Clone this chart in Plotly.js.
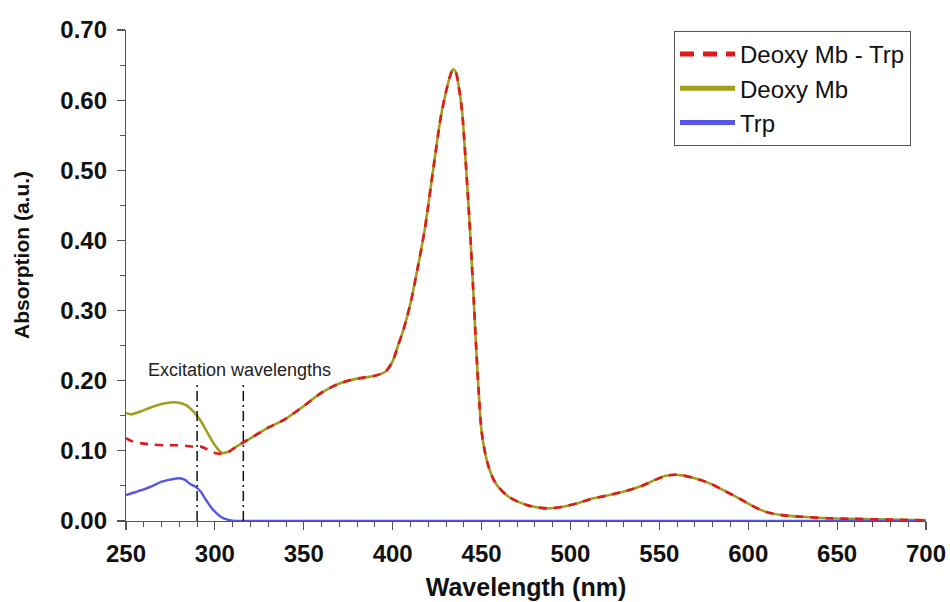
<!DOCTYPE html>
<html>
<head>
<meta charset="utf-8">
<script src="https://cdn.plot.ly/plotly-3.0.1.min.js"></script>
<style>html,body{margin:0;padding:0;background:#fff;}#chart{width:950px;height:602px;}</style>
</head>
<body>
<div id="chart"></div>
<script>
// Wavelength grid (nm) for Deoxy Mb and difference spectrum
var wlMb = [250,253,258,265,272,279,284,288,292,296,300,304,308,312,316,322,330,340,350,360,370,380,390,396,400,403,406,410,414,418,423,427,430,432.5,434,435.5,437,439,441,443.5,445.5,447,448.5,450,452,454,457,460,465,470,478,487,495,505,511,520,530,540,548,553,558,563,570,578,586,595,602,610,620,630,645,660,680,700];
// Deoxy Mb absorption
var deoxyMb = [0.154,0.152,0.156,0.163,0.168,0.169,0.165,0.156,0.143,0.125,0.108,0.097,0.099,0.106,0.112,0.121,0.133,0.146,0.164,0.183,0.196,0.203,0.207,0.213,0.228,0.250,0.272,0.310,0.360,0.415,0.505,0.575,0.612,0.636,0.644,0.640,0.622,0.585,0.515,0.415,0.320,0.245,0.180,0.128,0.097,0.077,0.058,0.047,0.035,0.028,0.021,0.018,0.020,0.026,0.031,0.036,0.042,0.050,0.059,0.064,0.066,0.065,0.061,0.054,0.044,0.032,0.022,0.013,0.008,0.006,0.004,0.003,0.002,0.001];
// Deoxy Mb - Trp difference spectrum
var deoxyMbMinusTrp = [0.118,0.114,0.111,0.109,0.108,0.108,0.107,0.106,0.106,0.102,0.097,0.096,0.099,0.106,0.112,0.121,0.133,0.146,0.164,0.183,0.196,0.203,0.207,0.213,0.228,0.250,0.272,0.310,0.360,0.415,0.505,0.575,0.612,0.636,0.644,0.640,0.622,0.585,0.515,0.415,0.320,0.245,0.180,0.128,0.097,0.077,0.058,0.047,0.035,0.028,0.021,0.018,0.020,0.026,0.031,0.036,0.042,0.050,0.059,0.064,0.066,0.065,0.061,0.054,0.044,0.032,0.022,0.013,0.008,0.006,0.004,0.003,0.002,0.001];
// Trp absorption
var wlTrp = [250,255,260,265,270,275,280,283,286,289,292,295,298,301,304,307,310,315,350,400,450,500,550,600,650,700];
var trp = [0.037,0.041,0.045,0.050,0.056,0.059,0.061,0.059,0.053,0.049,0.042,0.030,0.019,0.011,0.005,0.002,0.0005,0,0,0,0,0,0,0,0,0];
// Excitation wavelengths (nm) and height of the marker lines
var excitation = [290, 316];
var excitationTop = 0.197;
var excitationLabel = "Excitation wavelengths";
var seriesNames = ["Deoxy Mb - Trp", "Deoxy Mb", "Trp"];
var xTitle = "Wavelength (nm)";
var yTitle = "Absorption (a.u.)";

var cRed = "#e0191f", cOlive = "#a39f1c", cBlue = "#5555e8";
var font = "Liberation Sans, Arial, Helvetica, sans-serif";

var traces = [];
traces.push({x: wlMb, y: deoxyMb, mode: "lines", line: {color: cOlive, width: 2.6, shape: "spline", smoothing: 0.8}, showlegend: false, hoverinfo: "skip"});
traces.push({x: wlTrp, y: trp, mode: "lines", line: {color: cBlue, width: 2.4, shape: "spline", smoothing: 0.6}, showlegend: false, hoverinfo: "skip"});
traces.push({x: wlMb, y: deoxyMbMinusTrp, mode: "lines", line: {color: cRed, width: 2.6, dash: "8px,7px", shape: "spline", smoothing: 0.8}, showlegend: false, hoverinfo: "skip"});
excitation.forEach(function (w) {
  traces.push({x: [w, w], y: [0, excitationTop], mode: "lines", line: {color: "#111", width: 1.5, dash: "10px,4px,2px,4px"}, showlegend: false, hoverinfo: "skip"});
});
// legend entries
traces.push({x: [null], y: [null], mode: "lines", name: seriesNames[0], line: {color: cRed, width: 5, dash: "14px,9px"}});
traces.push({x: [null], y: [null], mode: "lines", name: seriesNames[1], line: {color: cOlive, width: 5}});
traces.push({x: [null], y: [null], mode: "lines", name: seriesNames[2], line: {color: cBlue, width: 5}});

var layout = {
  width: 950, height: 602,
  margin: {l: 126, r: 24, t: 30, b: 81},
  paper_bgcolor: "#fff", plot_bgcolor: "#fff",
  font: {family: font, color: "#111"},
  showlegend: true,
  legend: {x: 0.685, y: 0.998, xanchor: "left", yanchor: "top", bordercolor: "#555", borderwidth: 1, bgcolor: "#fff",
           font: {family: font, size: 24, color: "#111"}, itemwidth: 55, tracegroupgap: 0},
  xaxis: {
    range: [250, 700], showgrid: false, zeroline: false, showline: true, linecolor: "#555", linewidth: 1.2,
    ticks: "outside", tickcolor: "#555", ticklen: 8, tickwidth: 1.2, dtick: 50, tick0: 250, ticklabelstandoff: 3,
    tickfont: {family: font, size: 24, color: "#111", weight: "bold"},
    minor: {dtick: 10, ticks: "outside", ticklen: 5, tickcolor: "#555", tickwidth: 1},
    title: {text: "<b>" + xTitle + "</b>", font: {family: font, size: 25, color: "#111"}, standoff: 12}
  },
  yaxis: {
    range: [0, 0.7], showgrid: false, zeroline: false, showline: true, linecolor: "#555", linewidth: 1.2,
    ticks: "outside", tickcolor: "#555", ticklen: 8, tickwidth: 1.2, dtick: 0.1, tick0: 0, tickformat: ".2f", ticklabelstandoff: 5,
    tickfont: {family: font, size: 24, color: "#111", weight: "bold"},
    minor: {dtick: 0.05, ticks: "outside", ticklen: 5, tickcolor: "#555", tickwidth: 1}
  },
  annotations: [
    {x: 313.6, y: 0.215, xref: "x", yref: "y", text: excitationLabel, showarrow: false,
     font: {family: font, size: 18, color: "#222"}},
    {x: -0.13, y: 0.542, xref: "paper", yref: "paper", xanchor: "center", yanchor: "middle",
     text: "<b>" + yTitle + "</b>", textangle: -90, showarrow: false,
     font: {family: font, size: 21, color: "#111"}}
  ]
};

Plotly.newPlot("chart", traces, layout, {displayModeBar: false, staticPlot: true});
</script>
</body>
</html>
